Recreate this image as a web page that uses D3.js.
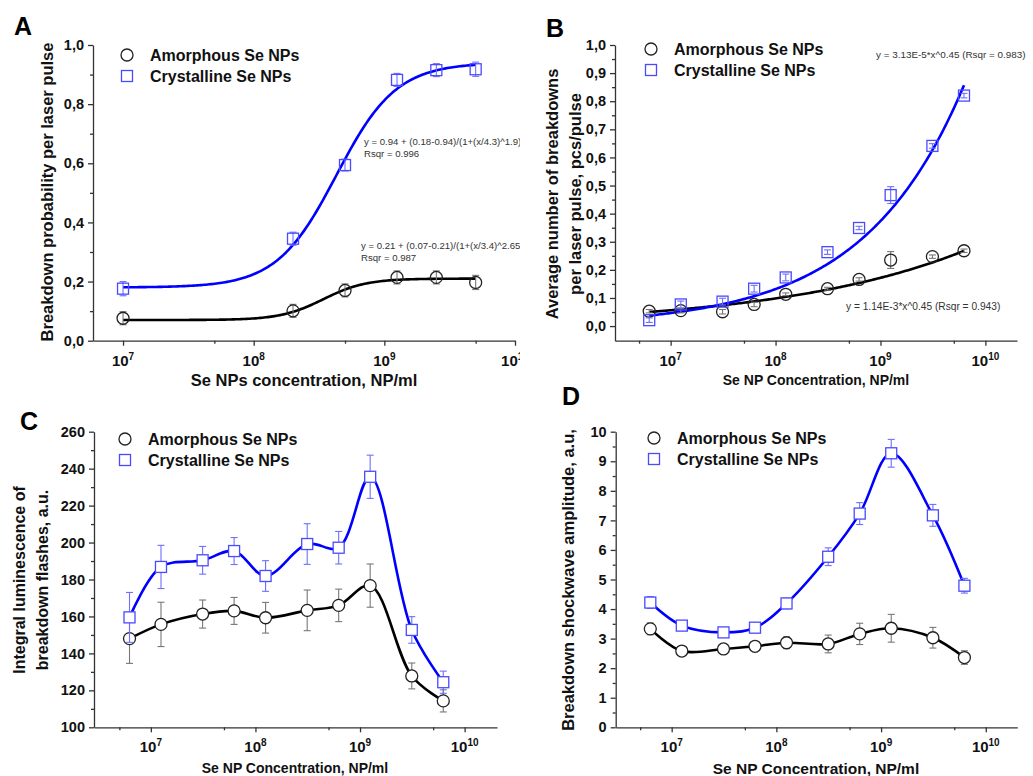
<!DOCTYPE html>
<html>
<head>
<meta charset="utf-8">
<script src="https://cdn.jsdelivr.net/npm/d3@7"></script>
<style>
  body { margin: 0; background: #fff; }
  svg { display: block; font-family: "Liberation Sans", Arial, sans-serif; }
  .axis path, .axis line { stroke: #333; stroke-width: 1.3; }
  .axis text { font-weight: bold; fill: #111; }
</style>
</head>
<body>
<svg id="fig" width="1033" height="776"></svg>
<script>
// ---- data ----
const seriesNames = ['Amorphous Se NPs', 'Crystalline Se NPs'];

// A: breakdown probability
const concA = [1e7, 2e8, 5e8, 1.25e9, 2.5e9, 5e9];
const probAmorph = [0.076, 0.101, 0.170, 0.214, 0.214, 0.197];
const probAmorphErr = [0.022, 0.022, 0.022, 0.022, 0.022, 0.024];
const probCryst = [0.176, 0.345, 0.594, 0.882, 0.915, 0.918];
const probCrystErr = [0.024, 0.022, 0.02, 0.022, 0.022, 0.024];
// logistic fits, x in units of 1e8: [A1, A2, x0, p]
const fitAmorphA = [0.07, 0.21, 3.4, 2.65];
const fitCrystA = [0.18, 0.94, 4.3, 1.9];
const fitTextA = [
  ['y = 0.94 + (0.18-0.94)/(1+(x/4.3)^1.9)', 'Rsqr = 0.996'],
  ['y = 0.21 + (0.07-0.21)/(1+(x/3.4)^2.65)', 'Rsqr = 0.987']
];

// B, C, D share the concentrations
const conc = [6.25e6, 1.25e7, 3.125e7, 6.25e7, 1.25e8, 3.125e8, 6.25e8, 1.25e9, 3.125e9, 6.25e9];

const breakAmorph = [0.053, 0.055, 0.051, 0.077, 0.113, 0.133, 0.166, 0.235, 0.247, 0.268];
const breakAmorphErr = [0.006, 0.008, 0.008, 0.008, 0.005, 0.005, 0.006, 0.03, 0.006, 0.006];
const breakCryst = [0.021, 0.077, 0.087, 0.133, 0.173, 0.263, 0.349, 0.466, 0.641, 0.820];
const breakCrystErr = [0.008, 0.012, 0.012, 0.012, 0.012, 0.008, 0.006, 0.03, 0.008, 0.008];
// power-law fits y = a * x^b
const fitAmorphB = [1.14e-3, 0.242];
const fitCrystB = [3.13e-5, 0.453];
const fitTextB = ['y = 3.13E-5*x^0.45 (Rsqr = 0.983)', 'y = 1.14E-3*x^0.45 (Rsqr = 0.943)'];

const lumAmorph = [148.0, 155.7, 161.3, 163.0, 159.3, 163.3, 166.0, 176.7, 127.8, 114.3];
const lumAmorphErr = [13.4, 12, 7.6, 7.3, 8.3, 11, 8.8, 11.7, 7, 6];
const lumCryst = [159.5, 186.8, 190.4, 195.4, 181.9, 199.2, 197.2, 235.6, 152.7, 124.4];
const lumCrystErr = [13.5, 11.7, 7.5, 7.3, 8.3, 11, 8.8, 11.7, 7.2, 6];

const shockAmorph = [3.33, 2.58, 2.65, 2.74, 2.86, 2.82, 3.16, 3.35, 3.03, 2.36];
const shockAmorphErr = [0.2, 0.08, 0.08, 0.08, 0.2, 0.3, 0.36, 0.47, 0.35, 0.23];
const shockCryst = [4.22, 3.44, 3.21, 3.37, 4.19, 5.77, 7.23, 9.27, 7.17, 4.79];
const shockCrystErr = [0.2, 0.1, 0.08, 0.1, 0.18, 0.3, 0.37, 0.47, 0.37, 0.25];

const xMajor = [1e7, 1e8, 1e9, 1e10];
const xMinor = [5e6, 5e7, 5e8, 5e9];

const svg = d3.select('#fig');
const blue = '#0000ff';
const commaFmt = v => d3.format('.1f')(v).replace('.', ',');

function logSamples(lo, hi, n) {
  const a = Math.log10(lo), b = Math.log10(hi);
  return d3.range(n + 1).map(i => Math.pow(10, a + (b - a) * i / n));
}

function drawPanel(p) {
  const g = svg.append('g');
  if (p.clip) {
    svg.append('clipPath').attr('id', p.clip.id)
      .append('rect').attr('x', 0).attr('y', 0).attr('width', p.clip.w).attr('height', p.clip.h);
    g.attr('clip-path', 'url(#' + p.clip.id + ')');
  }

  const x = d3.scaleLog().domain(p.xDomain).range([p.left, p.right]);
  const y = d3.scaleLinear().domain(p.yDomain).range([p.bottom, p.top]);

  // axes
  const gx = g.append('g').attr('class', 'axis').attr('transform', `translate(0,${p.bottom})`);
  gx.call(d3.axisBottom(x).tickValues(xMinor.filter(v => v > p.xDomain[0] && v < p.xDomain[1]))
    .tickSize(3).tickSizeOuter(0).tickFormat(''));
  gx.append('g').call(d3.axisBottom(x).tickValues(xMajor).tickSize(5).tickSizeOuter(0).tickFormat(''))
    .select('.domain').remove();
  gx.selectAll('.xlab').data(xMajor).join('text')
    .attr('class', 'xlab')
    .attr('x', d => x(d)).attr('y', 25)
    .attr('text-anchor', 'middle')
    .style('font-size', '15px')
    .each(function(d) {
      const t = d3.select(this);
      t.append('tspan').text('10');
      t.append('tspan').attr('dy', -6).style('font-size', '10px').text(Math.round(Math.log10(d)));
    });

  const gy = g.append('g').attr('class', 'axis').attr('transform', `translate(${p.left},0)`);
  gy.call(d3.axisLeft(y).tickValues(p.yMinor).tickSize(3).tickSizeOuter(0).tickFormat(''));
  gy.append('g').call(d3.axisLeft(y).tickValues(p.yMajor).tickSize(5).tickSizeOuter(0).tickFormat(p.yFmt).tickPadding(4))
    .call(a => a.select('.domain').remove())
    .selectAll('text').style('font-size', '14.5px');

  // axis titles
  g.append('text')
    .attr('x', p.xTitle[0]).attr('y', p.xTitle[1])
    .attr('text-anchor', 'middle')
    .style('font-size', p.xTitle[2] + 'px').style('font-weight', 'bold').attr('fill', '#111')
    .text(p.xLabel);
  p.yLabel.forEach((line, i) => {
    g.append('text')
      .attr('transform', `translate(${p.yTitle[i][0]},${p.yTitle[i][1]}) rotate(-90)`)
      .attr('text-anchor', 'middle')
      .style('font-size', p.yTitleSize + 'px').style('font-weight', 'bold').attr('fill', '#111')
      .text(line);
  });

  // panel letter
  g.append('text').attr('x', p.letter[0]).attr('y', p.letter[1])
    .style('font-size', '25px').style('font-weight', 'bold').text(p.letter[2]);

  // fitted / spline lines
  const line = d3.line().x(d => x(d[0])).y(d => y(d[1]));
  p.series.forEach(s => {
    const pts = s.curve ? s.curve : s.vals.map((v, i) => [p.xs[i], v]);
    g.append('path')
      .datum(pts)
      .attr('fill', 'none')
      .attr('stroke', s.kind === 'cryst' ? blue : '#000')
      .attr('stroke-width', 2.6)
      .attr('d', s.curve ? line.curve(d3.curveLinear)(pts) : line.curve(d3.curveCatmullRom.alpha(0.5))(pts));
  });

  // error bars + markers
  p.series.forEach(s => {
    const col = s.kind === 'cryst' ? '#6f6fff' : '#777';
    const eb = g.append('g').attr('stroke', col).attr('stroke-width', 1.1);
    s.vals.forEach((v, i) => {
      const cx = x(p.xs[i]);
      const y1 = y(v - s.err[i]), y2 = y(v + s.err[i]);
      eb.append('line').attr('x1', cx).attr('x2', cx).attr('y1', y1).attr('y2', y2);
      eb.append('line').attr('x1', cx - 3.5).attr('x2', cx + 3.5).attr('y1', y1).attr('y2', y1);
      eb.append('line').attr('x1', cx - 3.5).attr('x2', cx + 3.5).attr('y1', y2).attr('y2', y2);
    });
    const mk = g.append('g');
    if (s.kind === 'cryst') {
      mk.selectAll('rect').data(s.vals).join('rect')
        .attr('x', (d, i) => x(p.xs[i]) - 5.5).attr('y', d => y(d) - 5.5)
        .attr('width', 11).attr('height', 11)
        .attr('fill', p.markerFill).attr('stroke', '#4a4aff').attr('stroke-width', 1.3);
    } else {
      mk.selectAll('circle').data(s.vals).join('circle')
        .attr('cx', (d, i) => x(p.xs[i])).attr('cy', d => y(d)).attr('r', 6)
        .attr('fill', p.markerFill).attr('stroke', '#222').attr('stroke-width', 1.3);
    }
  });

  // legend
  const lg = g.append('g').attr('transform', `translate(${p.legend[0]},${p.legend[1]})`);
  lg.append('circle').attr('cx', 0).attr('cy', 0).attr('r', 6)
    .attr('fill', 'none').attr('stroke', '#222').attr('stroke-width', 1.3);
  lg.append('rect').attr('x', -5.5).attr('y', 15.5).attr('width', 11).attr('height', 11)
    .attr('fill', 'none').attr('stroke', '#4a4aff').attr('stroke-width', 1.3);
  seriesNames.forEach((n, i) => {
    lg.append('text').attr('x', 23).attr('y', 6 + i * 21)
      .style('font-size', '16px').style('font-weight', 'bold').attr('fill', '#111').text(n);
  });

  // fit annotations
  (p.notes || []).forEach(nt => {
    g.append('text').attr('x', nt[0]).attr('y', nt[1])
      .style('font-size', nt[3] + 'px').attr('fill', '#333').text(nt[2]);
  });
}

function logistic(f) {
  return c => f[1] + (f[0] - f[1]) / (1 + Math.pow((c / 1e8) / f[2], f[3]));
}
function power(f) {
  return c => f[0] * Math.pow(c, f[1]);
}

// ---- panel A ----
const fitXsA = logSamples(concA[0], concA[concA.length - 1], 200);
drawPanel({
  left: 93, right: 515, top: 45, bottom: 340.7,
  xDomain: [5.89e6, 1e10], yDomain: [0, 1],
  yMajor: d3.range(0, 1.01, 0.2), yMinor: d3.range(0.1, 1, 0.2), yFmt: commaFmt,
  xs: concA, markerFill: 'none',
  clip: { id: 'clipA', w: 520, h: 390 },
  xLabel: 'Se NPs concentration, NP/ml', xTitle: [304, 386, 16.5],
  yLabel: ['Breakdown probability per laser pulse'], yTitle: [[53, 192]], yTitleSize: 16.5,
  letter: [14, 35, 'A'],
  legend: [127, 55],
  series: [
    { kind: 'amorph', vals: probAmorph, err: probAmorphErr, curve: fitXsA.map(c => [c, logistic(fitAmorphA)(c)]) },
    { kind: 'cryst', vals: probCryst, err: probCrystErr, curve: fitXsA.map(c => [c, logistic(fitCrystA)(c)]) }
  ],
  notes: [
    [364, 144.5, fitTextA[0][0], 9.6], [364, 156.5, fitTextA[0][1], 9.6],
    [361, 248.5, fitTextA[1][0], 9.6], [361, 260.5, fitTextA[1][1], 9.6]
  ]
});

// ---- panel B ----
const fitXsB = logSamples(conc[0], conc[conc.length - 1], 200);
drawPanel({
  left: 615, right: 1017, top: 45, bottom: 340.7,
  xDomain: [2.95e6, 2.0e10], yDomain: [-0.052, 1.0],
  yMajor: d3.range(0, 1.01, 0.1), yMinor: d3.range(0.05, 1, 0.1), yFmt: commaFmt,
  xs: conc, markerFill: 'none',
  xLabel: 'Se NP Concentration, NP/ml', xTitle: [816, 385, 14],
  yLabel: ['Average number of breakdowns', 'per laser pulse, pcs/pulse'],
  yTitle: [[558, 194], [581, 194]], yTitleSize: 16.5,
  letter: [546, 37, 'B'],
  legend: [651, 49],
  series: [
    { kind: 'amorph', vals: breakAmorph, err: breakAmorphErr, curve: fitXsB.map(c => [c, power(fitAmorphB)(c)]) },
    { kind: 'cryst', vals: breakCryst, err: breakCrystErr, curve: fitXsB.map(c => [c, power(fitCrystB)(c)]) }
  ],
  notes: [[876, 57.5, fitTextB[0], 9.9], [846, 309.5, fitTextB[1], 10.2]]
});

// ---- panel C ----
drawPanel({
  left: 94, right: 497, top: 431.7, bottom: 727.3,
  xDomain: [2.86e6, 2.04e10], yDomain: [100, 260],
  yMajor: d3.range(100, 261, 20), yMinor: d3.range(110, 260, 20), yFmt: d3.format('d'),
  xs: conc, markerFill: '#fff',
  xLabel: 'Se NP Concentration, NP/ml', xTitle: [295, 773, 14],
  yLabel: ['Integral luminescence of', 'breakdown flashes, a.u.'],
  yTitle: [[25, 580], [48, 580]], yTitleSize: 16,
  letter: [20, 430, 'C'],
  legend: [125, 439],
  series: [
    { kind: 'amorph', vals: lumAmorph, err: lumAmorphErr },
    { kind: 'cryst', vals: lumCryst, err: lumCrystErr }
  ]
});

// ---- panel D ----
drawPanel({
  left: 615.7, right: 1017.3, top: 431.7, bottom: 727.3,
  xDomain: [2.92e6, 2.0e10], yDomain: [0, 10],
  yMajor: d3.range(0, 10.1, 1), yMinor: d3.range(0.5, 10, 1), yFmt: d3.format('d'),
  xs: conc, markerFill: '#fff',
  xLabel: 'Se NP Concentration, NP/ml', xTitle: [816, 774, 15.5],
  yLabel: ['Breakdown shockwave amplitude, a.u,'],
  yTitle: [[574, 580]], yTitleSize: 16.5,
  letter: [562, 405, 'D'],
  legend: [654, 438],
  series: [
    { kind: 'amorph', vals: shockAmorph, err: shockAmorphErr },
    { kind: 'cryst', vals: shockCryst, err: shockCrystErr }
  ]
});
</script>
</body>
</html>
